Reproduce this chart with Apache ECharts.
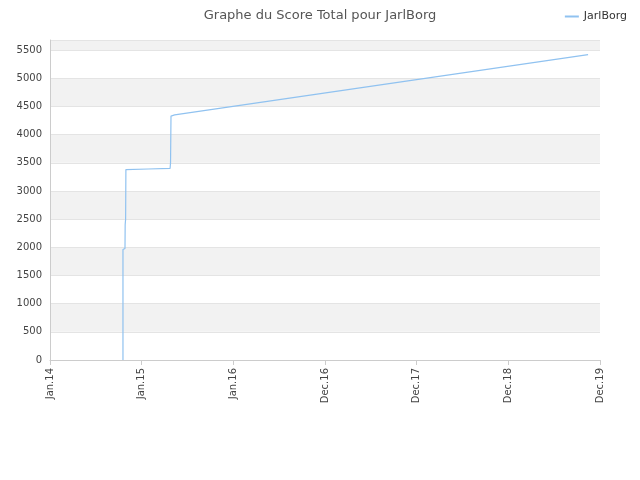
<!DOCTYPE html>
<html><head><meta charset="utf-8">
<script src="https://cdn.jsdelivr.net/npm/echarts@6/dist/echarts.min.js"></script>
<style>html,body{margin:0;background:#fff}#main{width:640px;height:480px}</style>
</head><body><div id="main"></div>
<script>
// étiquettes de l'axe x (positions régulières)
var tickLabels = ['Jan.14', 'Jan.15', 'Jan.16', 'Dec.16', 'Dec.17', 'Dec.18', 'Dec.19'];
// points du score (x en intervalles d'axe, y score)
var posX = [0.796, 0.796, 0.815, 0.818, 0.82, 0.825, 0.828, 0.84, 1.07, 1.075, 1.31, 1.315, 1.32, 1.36, 5.87];
var score = [0, 1960, 1960, 1980, 2400, 2500, 3380, 3380, 3390, 3400, 3400, 3500, 4330, 4350, 5420];

var myChart = echarts.init(document.getElementById('main'));
var option = {
    title: {
        text: 'Graphe du Score Total pour JarlBorg', left: 'center', top: 4,
        textStyle: { fontSize: 13, fontWeight: 'normal', color: '#555', fontFamily: 'DejaVu Sans' }
    },
    legend: {
        data: ['JarlBorg'], right: 8, top: 6, itemWidth: 14, itemHeight: 2,
        icon: 'rect', textStyle: { fontSize: 11, color: '#333', fontFamily: 'DejaVu Sans' }
    },
    grid: { left: 50, right: 40, top: 40, bottom: 120 },
    xAxis: {
        type: 'value', min: 0, max: 6, interval: 1,
        axisLine: { lineStyle: { color: '#ccc' } },
        axisTick: { show: true, lineStyle: { color: '#ccc' } },
        splitLine: { show: false },
        axisLabel: {
            rotate: 90, color: '#444', fontSize: 10, fontFamily: 'DejaVu Sans',
            formatter: function (v) { return tickLabels[Math.round(v)]; }
        }
    },
    yAxis: {
        type: 'value', min: 0, max: 5680, interval: 500,
        axisLine: { show: true, lineStyle: { color: '#ccc' } },
        axisTick: { show: false },
        splitLine: { lineStyle: { color: '#e4e4e4' } },
        splitArea: { show: true, areaStyle: { color: ['#ffffff', '#f2f2f2'] } },
        axisLabel: {
            color: '#444', fontSize: 10, fontFamily: 'DejaVu Sans',
            showMaxLabel: false,
            formatter: function (v) { return String(v); }
        }
    },
    series: [{
        name: 'JarlBorg', type: 'line', showSymbol: false,
        lineStyle: { color: '#90c2f0', width: 1.2 }, itemStyle: { color: '#90c2f0' },
        data: posX.map(function (x, i) { return [x, score[i]]; })
    }]
};
myChart.setOption(option);
</script></body></html>
